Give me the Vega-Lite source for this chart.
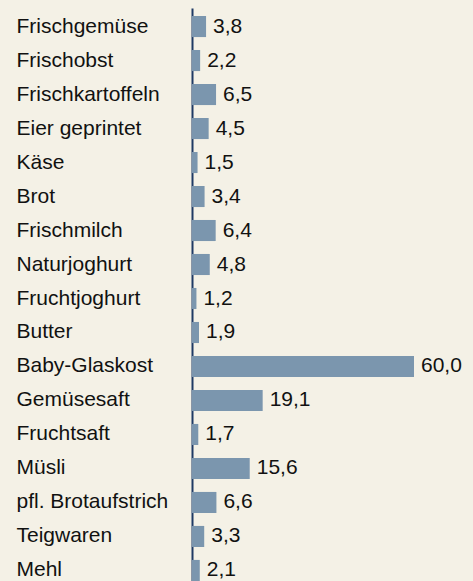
{
  "$schema": "https://vega.github.io/schema/vega-lite/v6.json",
  "width": 222,
  "height": 581,
  "autosize": {"type": "none"},
  "padding": {"left": 192, "top": 8, "right": 59, "bottom": 0},
  "background": "#f4f1e6",
  "config": {
    "view": {"stroke": null},
    "locale": {"number": {"decimal": ",", "thousands": ".", "grouping": [3], "currency": ["", " €"]}},
    "font": "Liberation Sans"
  },
  "data": {
    "values": [
      {"Produkt": "Frischgemüse", "Wert": 3.8},
      {"Produkt": "Frischobst", "Wert": 2.2},
      {"Produkt": "Frischkartoffeln", "Wert": 6.5},
      {"Produkt": "Eier geprintet", "Wert": 4.5},
      {"Produkt": "Käse", "Wert": 1.5},
      {"Produkt": "Brot", "Wert": 3.4},
      {"Produkt": "Frischmilch", "Wert": 6.4},
      {"Produkt": "Naturjoghurt", "Wert": 4.8},
      {"Produkt": "Fruchtjoghurt", "Wert": 1.2},
      {"Produkt": "Butter", "Wert": 1.9},
      {"Produkt": "Baby-Glaskost", "Wert": 60.0},
      {"Produkt": "Gemüsesaft", "Wert": 19.1},
      {"Produkt": "Fruchtsaft", "Wert": 1.7},
      {"Produkt": "Müsli", "Wert": 15.6},
      {"Produkt": "pfl. Brotaufstrich", "Wert": 6.6},
      {"Produkt": "Teigwaren", "Wert": 3.3},
      {"Produkt": "Mehl", "Wert": 2.1}
    ]
  },
  "encoding": {
    "y": {
      "field": "Produkt",
      "type": "nominal",
      "sort": null,
      "title": null,
      "scale": {"paddingInner": 0.38, "paddingOuter": 0.235},
      "axis": {
        "ticks": false,
        "labelAlign": "left",
        "labelPadding": 176,
        "labelFontSize": 21,
        "labelColor": "#111111",
        "labelFont": "Liberation Sans",
        "domainColor": "#1f3a64",
        "domainWidth": 2,
        "grid": false
      }
    },
    "x": {
      "field": "Wert",
      "type": "quantitative",
      "scale": {"domain": [0, 60], "nice": false},
      "axis": null
    }
  },
  "layer": [
    {"mark": {"type": "bar", "color": "#7b96ae", "clip": false}},
    {
      "mark": {"type": "text", "align": "left", "baseline": "middle", "dx": 7, "fontSize": 21, "color": "#111111", "font": "Liberation Sans"},
      "encoding": {"text": {"field": "Wert", "type": "quantitative", "format": ".1f"}}
    }
  ]
}
